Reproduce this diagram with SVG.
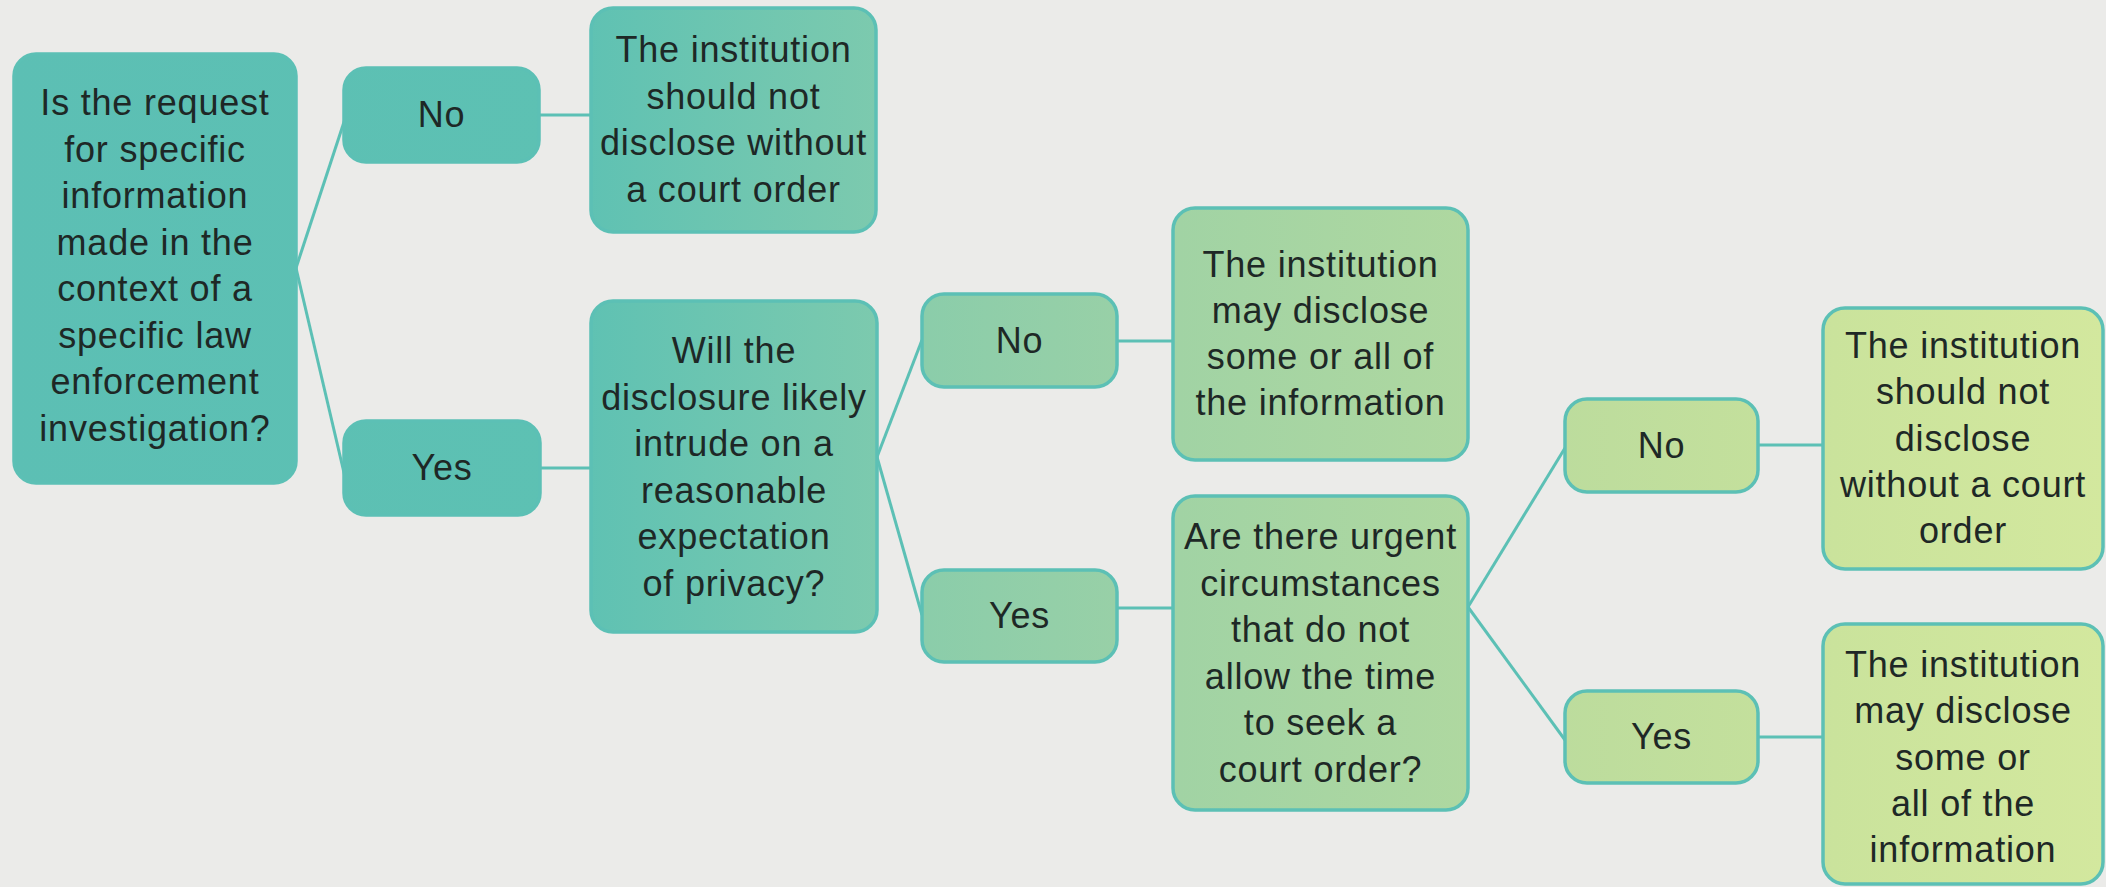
<svg xmlns="http://www.w3.org/2000/svg" width="2106" height="887" viewBox="0 0 2106 887">
<defs>
<linearGradient id="g" gradientUnits="userSpaceOnUse" x1="0" y1="0" x2="2106" y2="0">
<stop offset="0" stop-color="#5cbfb4"/>
<stop offset="0.27" stop-color="#5dc1b3"/>
<stop offset="0.42" stop-color="#7dcaae"/>
<stop offset="0.44" stop-color="#8bcdaa"/>
<stop offset="0.53" stop-color="#98d0a7"/>
<stop offset="0.56" stop-color="#a1d3a4"/>
<stop offset="0.70" stop-color="#afd8a0"/>
<stop offset="0.74" stop-color="#bcdc9d"/>
<stop offset="0.84" stop-color="#c4e09c"/>
<stop offset="0.87" stop-color="#cae39c"/>
<stop offset="1" stop-color="#d3e89e"/>
</linearGradient>
</defs>
<style>
.n{fill:url(#g);stroke:#5cc0b5;stroke-width:3.5}
.t{font-family:"Liberation Sans",Arial,sans-serif;font-size:36px;letter-spacing:0.8px;fill:#1e2826;text-anchor:middle}
.c{stroke:#5cc0b5;stroke-width:3;fill:none}
</style>
<rect width="2106" height="887" fill="#ebebe9"/>
<g id="connectors">
<path class="c" d="M296,268 L345,119"/>
<path class="c" d="M296,268 L345,477"/>
<path class="c" d="M539,115 L591,115"/>
<path class="c" d="M540,468 L591,468"/>
<path class="c" d="M877,457 L922,340"/>
<path class="c" d="M877,457 L922,615"/>
<path class="c" d="M1117,341 L1173,341"/>
<path class="c" d="M1117,608 L1173,608"/>
<path class="c" d="M1468,607 L1565,448"/>
<path class="c" d="M1468,607 L1565,740"/>
<path class="c" d="M1758,445 L1823,445"/>
<path class="c" d="M1758,737 L1823,737"/>
</g>
<g id="q1">
<rect class="n" x="14" y="54" width="282" height="429" rx="22"/>
<text class="t" x="155"><tspan x="155" y="115">Is the request</tspan><tspan x="155" y="161.5">for specific</tspan><tspan x="155" y="208">information</tspan><tspan x="155" y="254.5">made in the</tspan><tspan x="155" y="301">context of a</tspan><tspan x="155" y="347.5">specific law</tspan><tspan x="155" y="394">enforcement</tspan><tspan x="155" y="440.5">investigation?</tspan></text>
</g>
<g id="no1">
<rect class="n" x="344" y="68" width="195" height="94" rx="22"/>
<text class="t" x="441.5" y="127">No</text>
</g>
<g id="yes1">
<rect class="n" x="344" y="421" width="196" height="94" rx="22"/>
<text class="t" x="442" y="480">Yes</text>
</g>
<g id="r1">
<rect class="n" x="591" y="8" width="285" height="224" rx="22"/>
<text class="t" x="733.5"><tspan x="733.5" y="62">The institution</tspan><tspan x="733.5" y="108.5">should not</tspan><tspan x="733.5" y="155">disclose without</tspan><tspan x="733.5" y="201.5">a court order</tspan></text>
</g>
<g id="q2">
<rect class="n" x="591" y="301" width="286" height="331" rx="22"/>
<text class="t" x="734"><tspan x="734" y="363">Will the</tspan><tspan x="734" y="409.5">disclosure likely</tspan><tspan x="734" y="456">intrude on a</tspan><tspan x="734" y="502.5">reasonable</tspan><tspan x="734" y="549">expectation</tspan><tspan x="734" y="595.5">of privacy?</tspan></text>
</g>
<g id="no2">
<rect class="n" x="922" y="294" width="195" height="93" rx="22"/>
<text class="t" x="1019.5" y="353">No</text>
</g>
<g id="yes2">
<rect class="n" x="922" y="570" width="195" height="92" rx="22"/>
<text class="t" x="1019.5" y="628">Yes</text>
</g>
<g id="r2">
<rect class="n" x="1173" y="208" width="295" height="252" rx="22"/>
<text class="t" x="1320.5"><tspan x="1320.5" y="277">The institution</tspan><tspan x="1320.5" y="323">may disclose</tspan><tspan x="1320.5" y="369">some or all of</tspan><tspan x="1320.5" y="415">the information</tspan></text>
</g>
<g id="q3">
<rect class="n" x="1173" y="496" width="295" height="314" rx="22"/>
<text class="t" x="1320.5"><tspan x="1320.5" y="549">Are there urgent</tspan><tspan x="1320.5" y="595.5">circumstances</tspan><tspan x="1320.5" y="642">that do not</tspan><tspan x="1320.5" y="688.5">allow the time</tspan><tspan x="1320.5" y="735">to seek a</tspan><tspan x="1320.5" y="781.5">court order?</tspan></text>
</g>
<g id="no3">
<rect class="n" x="1565" y="399" width="193" height="93" rx="22"/>
<text class="t" x="1661.5" y="458">No</text>
</g>
<g id="yes3">
<rect class="n" x="1565" y="691" width="193" height="92" rx="22"/>
<text class="t" x="1661.5" y="749">Yes</text>
</g>
<g id="r3">
<rect class="n" x="1823" y="308" width="280" height="261" rx="22"/>
<text class="t" x="1963"><tspan x="1963" y="358">The institution</tspan><tspan x="1963" y="404.25">should not</tspan><tspan x="1963" y="450.5">disclose</tspan><tspan x="1963" y="496.75">without a court</tspan><tspan x="1963" y="543">order</tspan></text>
</g>
<g id="r4">
<rect class="n" x="1823" y="624" width="280" height="260" rx="22"/>
<text class="t" x="1963"><tspan x="1963" y="677">The institution</tspan><tspan x="1963" y="723.25">may disclose</tspan><tspan x="1963" y="769.5">some or</tspan><tspan x="1963" y="815.75">all of the</tspan><tspan x="1963" y="862">information</tspan></text>
</g>
</svg>
